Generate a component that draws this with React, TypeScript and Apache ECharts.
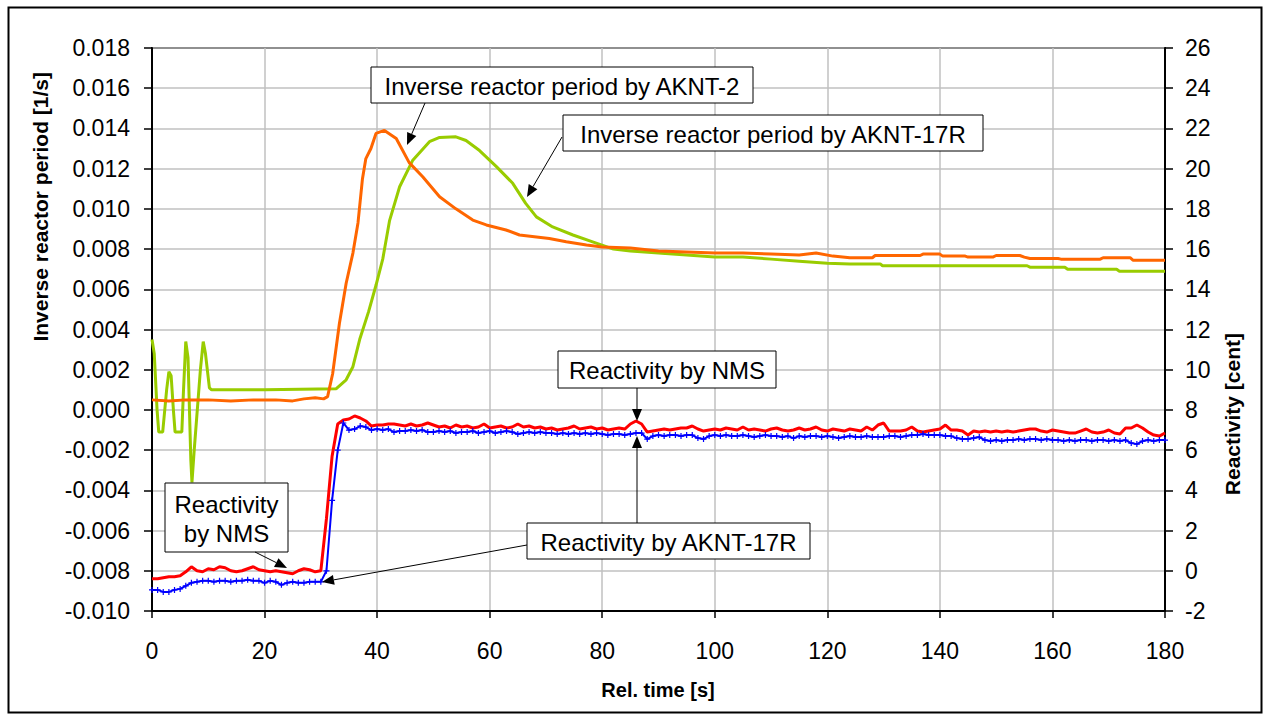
import React, { useEffect, useRef } from "react";
import * as echarts from "echarts";

// ---- data ----
// Inverse reactor period [1/s], pairs [time s, value]
const periodAKNT2: [number, number][] = [
  [0, 0.0005], [3, 0.00045], [6, 0.0005], [10, 0.0005], [14, 0.00045], [18, 0.0005],
  [22, 0.0005], [25, 0.00045], [27, 0.00055], [29, 0.0006], [30.5, 0.00055], [31.2, 0.00066],
  [32.1, 0.0018], [33.3, 0.0043], [34.5, 0.0063], [35.7, 0.0078], [36.6, 0.0093], [37.4, 0.0115],
  [38, 0.0125], [38.9, 0.013], [39.8, 0.01375], [41.3, 0.0139], [43.4, 0.0135], [45.7, 0.0123],
  [48.1, 0.0116], [51.1, 0.0106], [54, 0.01], [57, 0.00944], [59.4, 0.0092], [62.9, 0.00895],
  [65.3, 0.0087], [70.6, 0.00853], [73.6, 0.00836], [77.2, 0.0082], [80, 0.0081], [85, 0.00805],
  [90, 0.0079], [95, 0.00785], [100, 0.0078], [105, 0.0078], [110, 0.00775], [115, 0.0077],
  [118, 0.0078], [121, 0.00765], [124, 0.00757], [128, 0.00757], [128.5, 0.00768], [136.5, 0.00768],
  [137, 0.00775], [140, 0.00775], [140.5, 0.00765], [144.5, 0.00765], [145, 0.0076], [149.4, 0.0076],
  [150, 0.00768], [154.2, 0.00768], [155, 0.0076], [156, 0.00753], [161, 0.00753], [161.5, 0.0075],
  [168.5, 0.0075], [169, 0.00757], [173.8, 0.00757], [174.3, 0.00745], [180, 0.00745],
];

const periodAKNT17R: [number, number][] = [
  [0, 0.0035], [0.4, 0.0028], [0.9, 0.0], [1.2, -0.0011], [1.9, -0.0011], [2.6, 0.001],
  [3.0, 0.0019], [3.4, 0.0017], [3.8, 0.0], [4.1, -0.0011], [5.3, -0.0011], [5.6, 0.001],
  [6.0, 0.0034], [6.4, 0.0026], [6.9, -0.0025], [7.1, -0.0036], [7.5, -0.002], [8.6, 0.002],
  [9.1, 0.0034], [9.5, 0.0028], [10.2, 0.0011], [10.6, 0.001], [20, 0.001], [32.7, 0.00105],
  [34.5, 0.0015], [35.7, 0.00215], [36.9, 0.0035], [38.5, 0.0049], [39.8, 0.0062], [41, 0.0075],
  [42.2, 0.0094], [44, 0.0111], [46.3, 0.0124], [49.3, 0.01334], [51.1, 0.01355], [54, 0.01358],
  [55.8, 0.0134], [58.2, 0.0129], [61.2, 0.0121], [64.1, 0.01127], [66.4, 0.01027], [68.3, 0.0096],
  [71.2, 0.0091], [74.8, 0.0087], [78.3, 0.00836], [82, 0.008], [85, 0.0079], [90, 0.0078],
  [95, 0.0077], [100, 0.0076], [105, 0.0076], [110, 0.0075], [115, 0.0074], [120, 0.0073],
  [124, 0.00726], [129.4, 0.00726], [129.8, 0.00717], [155.5, 0.00717], [156, 0.0071],
  [162.2, 0.0071], [162.7, 0.007], [171.4, 0.007], [171.9, 0.0069], [180, 0.0069],
];

// Reactivity [cent], one value per second, t = 0 ... 180
const reactNMS = [
  -0.4, -0.4, -0.35, -0.3, -0.3, -0.25, -0.05, 0.2, 0.0, -0.05,
  0.1, 0.05, 0.2, 0.15, 0.0, -0.05, 0.0, 0.1, 0.2, 0.05,
  0.0, -0.05, 0.0, -0.05, -0.1, -0.15, 0.0, 0.1, 0.05, -0.05,
  0.0, 2.6, 5.7, 7.3, 7.5, 7.55, 7.7, 7.6, 7.45, 7.2,
  7.25, 7.25, 7.3, 7.3, 7.25, 7.2, 7.3, 7.2, 7.25, 7.35,
  7.25, 7.15, 7.2, 7.1, 7.25, 7.15, 7.2, 7.1, 7.15, 7.3,
  7.1, 7.15, 7.2, 7.1, 7.15, 7.3, 7.15, 7.2, 7.1, 7.15,
  7.05, 7.1, 7.0, 7.05, 7.1, 7.2, 7.05, 7.1, 7.15, 7.05,
  7.1, 7.0, 7.05, 7.1, 7.05, 7.3, 7.45, 7.3, 6.9, 6.95,
  7.0, 7.05, 7.0, 7.05, 7.1, 7.1, 7.2, 7.05, 6.95, 7.0,
  7.05, 7.0, 7.1, 7.05, 7.0, 7.15, 7.0, 7.05, 7.0, 6.95,
  7.05, 7.1, 7.0, 6.95, 7.0, 7.1, 7.0, 7.05, 7.15, 7.0,
  6.95, 7.05, 7.0, 6.95, 7.05, 7.0, 6.95, 7.15, 7.0, 7.25,
  7.35, 6.95, 6.95, 6.95, 7.0, 7.15, 6.95, 6.9, 6.95, 7.0,
  7.05, 7.25, 7.0, 7.0, 6.95, 6.75, 6.95, 6.9, 6.95, 6.9,
  6.95, 6.9, 6.95, 6.9, 6.95, 7.0, 7.05, 7.05, 6.95, 6.9,
  7.0, 6.95, 6.9, 6.85, 6.85, 6.95, 7.05, 6.9, 6.85, 6.9,
  7.0, 6.85, 6.8, 7.1, 7.1, 7.25, 7.1, 6.9, 6.75, 6.7,
  6.85,
];

const reactAKNT17R = [
  -0.95, -0.95, -1.05, -1.05, -0.95, -0.9, -0.75, -0.6, -0.55, -0.5,
  -0.5, -0.55, -0.5, -0.5, -0.55, -0.5, -0.5, -0.45, -0.5, -0.5,
  -0.6, -0.5, -0.55, -0.7, -0.6, -0.55, -0.6, -0.6, -0.55, -0.55,
  -0.55, 0.0, 3.5, 6.0, 7.35, 7.0, 7.05, 7.2, 7.15, 7.0,
  7.05, 7.0, 7.05, 6.9, 6.95, 6.95, 7.0, 6.95, 7.0, 6.9,
  6.9, 6.95, 6.9, 6.95, 6.85, 6.9, 6.9, 6.95, 6.85, 6.9,
  6.95, 6.85, 6.9, 6.95, 6.9, 6.8, 6.85, 6.9, 6.85, 6.9,
  6.85, 6.85, 6.8, 6.85, 6.8, 6.85, 6.8, 6.85, 6.8, 6.85,
  6.8, 6.75, 6.8, 6.8, 6.75, 6.8, 6.85, 6.85, 6.55, 6.7,
  6.75, 6.7, 6.75, 6.75, 6.7, 6.75, 6.75, 6.6, 6.55, 6.7,
  6.75, 6.7, 6.75, 6.7, 6.7, 6.75, 6.7, 6.65, 6.7, 6.75,
  6.7, 6.7, 6.65, 6.7, 6.6, 6.7, 6.65, 6.7, 6.7, 6.65,
  6.7, 6.65, 6.6, 6.65, 6.7, 6.65, 6.65, 6.7, 6.65, 6.65,
  6.65, 6.7, 6.7, 6.65, 6.7, 6.75, 6.75, 6.8, 6.75, 6.75,
  6.75, 6.7, 6.7, 6.6, 6.55, 6.55, 6.6, 6.65, 6.5, 6.45,
  6.5, 6.45, 6.5, 6.5, 6.55, 6.5, 6.55, 6.55, 6.5, 6.55,
  6.5, 6.5, 6.45, 6.5, 6.45, 6.5, 6.5, 6.45, 6.5, 6.5,
  6.45, 6.5, 6.45, 6.5, 6.35, 6.3, 6.45, 6.5, 6.45, 6.5,
  6.5,
];

const seriesNames = [
  "Inverse reactor period by AKNT-2",
  "Inverse reactor period by AKNT-17R",
  "Reactivity by NMS",
  "Reactivity by AKNT-17R",
];

const xTitle = "Rel. time [s]";
const yLeftTitle = "Inverse reactor period [1/s]";
const yRightTitle = "Reactivity [cent]";

const FONT = 'Arial, "Liberation Sans", Helvetica, sans-serif';

function arrow(x1: number, y1: number, x2: number, y2: number) {
  const dx = x2 - x1;
  const dy = y2 - y1;
  const L = Math.hypot(dx, dy);
  const ux = dx / L;
  const uy = dy / L;
  const hl = 12;
  const hw = 5;
  const bx = x2 - ux * hl;
  const by = y2 - uy * hl;
  return [
    { type: "line", z: 100, shape: { x1, y1, x2: bx, y2: by }, style: { stroke: "#000", lineWidth: 1 } },
    {
      type: "polygon",
      z: 100,
      shape: { points: [[x2, y2], [bx - uy * hw, by + ux * hw], [bx + uy * hw, by - ux * hw]] },
      style: { fill: "#000" },
    },
  ];
}

function box(x: number, y: number, w: number, h: number, text: string) {
  return [
    { type: "rect", z: 100, shape: { x, y, width: w, height: h }, style: { fill: "#fff", stroke: "#000", lineWidth: 1 } },
    {
      type: "text",
      z: 101,
      x: x + w / 2,
      y: y + h / 2 + 1,
      style: {
        text,
        font: `24px ${FONT}`,
        fill: "#000",
        textAlign: "center",
        textVerticalAlign: "middle",
        align: "center",
        verticalAlign: "middle",
        lineHeight: 29,
      },
    },
  ];
}

export default function App() {
  const ref = useRef<HTMLDivElement>(null);

  useEffect(() => {
    if (!ref.current) return;
    const chart = echarts.init(ref.current, null, { renderer: "svg" });

    const labelStyle = { fontSize: 23, color: "#000", fontFamily: FONT };

    const graphics: any[] = [
      { type: "rect", z: 0, shape: { x: 8.5, y: 7.5, width: 1253, height: 705 }, style: { fill: "none", stroke: "#000", lineWidth: 2 } },
      {
        type: "text",
        z: 100,
        x: 40,
        y: 72,
        rotation: Math.PI / 2,
        style: {
          text: yLeftTitle,
          font: `bold 21px ${FONT}`,
          fill: "#000",
          textAlign: "right",
          textVerticalAlign: "middle",
          align: "right",
          verticalAlign: "middle",
        },
      },
      {
        type: "text",
        z: 100,
        x: 1232,
        y: 333,
        rotation: Math.PI / 2,
        style: {
          text: yRightTitle,
          font: `bold 21px ${FONT}`,
          fill: "#000",
          textAlign: "right",
          textVerticalAlign: "middle",
          align: "right",
          verticalAlign: "middle",
        },
      },
      {
        type: "text",
        z: 100,
        x: 658,
        y: 690,
        style: {
          text: xTitle,
          font: `bold 20px ${FONT}`,
          fill: "#000",
          textAlign: "center",
          textVerticalAlign: "middle",
          align: "center",
          verticalAlign: "middle",
        },
      },
      ...box(371, 67, 382, 36, seriesNames[0]),
      ...arrow(425, 103, 407, 145),
      ...box(563, 115, 420, 36, seriesNames[1]),
      ...arrow(562, 137, 527, 197),
      ...box(558, 351, 218, 37, seriesNames[2]),
      ...arrow(637, 388, 637, 421),
      ...box(527, 523, 283, 36, seriesNames[3]),
      ...arrow(637, 523, 637, 436),
      ...arrow(527, 545, 322, 582),
      ...box(165, 483, 123, 69, "Reactivity\nby NMS"),
      ...arrow(255, 552, 287, 568),
    ];

    chart.setOption({
      animation: false,
      backgroundColor: "#fff",
      grid: {
        left: 152,
        right: 101,
        top: 48,
        bottom: 104,
        show: true,
        borderColor: "#000",
        borderWidth: 2,
        backgroundColor: "transparent",
      },
      xAxis: {
        type: "value",
        min: 0,
        max: 180,
        interval: 20,
        axisLine: { show: true, onZero: false, lineStyle: { color: "#000", width: 2 } },
        axisTick: { show: true, inside: false, length: 7, lineStyle: { color: "#000", width: 1.5 } },
        axisLabel: { ...labelStyle, margin: 28 },
        splitLine: { show: true, lineStyle: { color: "#c0c0c0", width: 1.5 } },
      },
      yAxis: [
        {
          type: "value",
          min: -0.01,
          max: 0.018,
          interval: 0.002,
          axisLine: { show: true, onZero: false, lineStyle: { color: "#000", width: 2 } },
          axisTick: { show: true, inside: false, length: 8, lineStyle: { color: "#000", width: 1.5 } },
          axisLabel: {
            ...labelStyle,
            margin: 22,
            formatter: (v: number) => (Math.abs(v) < 1e-9 ? "0.000" : v.toFixed(3)),
          },
          splitLine: { show: true, lineStyle: { color: "#c0c0c0", width: 1.5 } },
        },
        {
          type: "value",
          position: "right",
          min: -2,
          max: 26,
          interval: 2,
          axisLine: { show: true, onZero: false, lineStyle: { color: "#000", width: 2 } },
          axisTick: { show: true, inside: false, length: 8, lineStyle: { color: "#000", width: 1.5 } },
          axisLabel: { ...labelStyle, margin: 20 },
          splitLine: { show: false },
        },
      ],
      series: [
        {
          name: seriesNames[0],
          type: "line",
          yAxisIndex: 0,
          data: periodAKNT2,
          showSymbol: false,
          symbol: "none",
          lineStyle: { color: "#ff6600", width: 3 },
          z: 3,
        },
        {
          name: seriesNames[1],
          type: "line",
          yAxisIndex: 0,
          data: periodAKNT17R,
          showSymbol: false,
          symbol: "none",
          lineStyle: { color: "#99cc00", width: 3 },
          z: 2,
        },
        {
          name: seriesNames[2],
          type: "line",
          yAxisIndex: 1,
          data: reactNMS.map((v, i) => [i, v]),
          showSymbol: false,
          symbol: "none",
          lineStyle: { color: "#ff0000", width: 3 },
          z: 4,
        },
        {
          name: seriesNames[3],
          type: "line",
          yAxisIndex: 1,
          data: reactAKNT17R.map((v, i) => [i, v]),
          symbol: "path://M4,0H6V4H10V6H6V10H4V6H0V4H4Z",
          symbolSize: 6,
          showSymbol: true,
          itemStyle: { color: "#0000ff" },
          lineStyle: { color: "#0000ff", width: 2 },
          z: 5,
        },
      ],
      graphic: graphics,
    });

    return () => {
      chart.dispose();
    };
  }, []);

  return (
    <div
      ref={ref}
      style={{ position: "absolute", left: 0, top: 0, width: 1266, height: 715, background: "#fff" }}
    />
  );
}
